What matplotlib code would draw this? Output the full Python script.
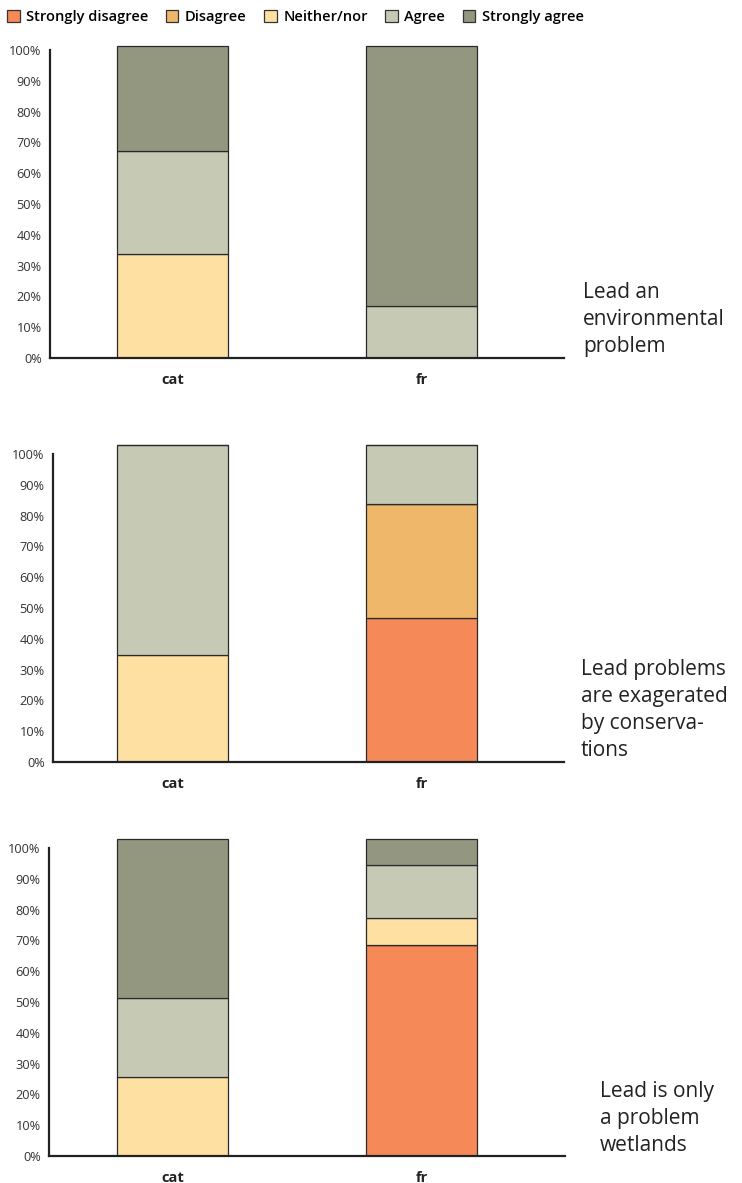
import matplotlib
matplotlib.use("Agg")
import matplotlib.pyplot as plt
from matplotlib.patches import Patch

plt.rcParams['font.family'] = ['Open Sans', 'DejaVu Sans']

groups = ["cat", "fr"]
levels = ["Strongly disagree", "Disagree", "Neither/nor", "Agree", "Strongly agree"]
colors = ["#F58A58", "#EEB769", "#FEE0A2", "#C6CAB4", "#939780"]

questions = ["Lead an\nenvironmental\nproblem",
             "Lead problems\nare exagerated\nby conserva-\ntions",
             "Lead is only\na problem\nwetlands"]

# shares per level (SD, D, N, A, SA) for cat and fr
q1_cat = [0, 0, 33.8, 33.5, 34.0]
q1_fr = [0, 0, 0, 17.0, 84.3]
q2_cat = [0, 0, 34.6, 68.3, 0]
q2_fr = [46.8, 37.1, 0, 19.0, 0]
q3_cat = [0, 0, 25.6, 25.8, 51.6]
q3_fr = [68.6, 0, 8.7, 17.1, 8.6]

data = [(q1_cat, q1_fr), (q2_cat, q2_fr), (q3_cat, q3_fr)]

W, H = 742, 1183
fig = plt.figure(figsize=(W / 100, H / 100), dpi=100)

# pixel layout of each panel: (left, right, bottom)
panels = [(50, 564, 358), (53, 564, 762), (49, 565, 1156)]
px_per_pct = 3.08
label_pos = [(583, 282), (581, 659), (600, 1081)]

for k, (l, r, b) in enumerate(panels):
    h = 105 * px_per_pct
    ax = fig.add_axes([l / W, (H - b) / H, (r - l) / W, h / H])
    cat_vals, fr_vals = data[k]
    bottoms = [0, 0]
    for i, lev in enumerate(levels):
        vals = [cat_vals[i], fr_vals[i]]
        ax.bar([0, 1], vals, width=0.446, bottom=bottoms, color=colors[i],
               edgecolor="#2a2a2a", linewidth=0.9, zorder=2)
        bottoms = [bottoms[0] + vals[0], bottoms[1] + vals[1]]
    ax.set_xlim(-0.492 + (l - 50) / 249, 1.572 + (r - 564) / 249)
    ax.set_ylim(0, 105)
    ax.set_yticks(range(0, 101, 10))
    ax.set_yticklabels([f"{v}%" for v in range(0, 101, 10)], fontsize=9.2, color="#333333")
    ax.set_xticks([0, 1])
    ax.set_xticklabels(groups, fontsize=10.5, fontweight="bold", color="#222222")
    ax.tick_params(axis="y", length=0, pad=6)
    ax.tick_params(axis="x", length=0, pad=11)
    for s in ["top", "right"]:
        ax.spines[s].set_visible(False)
    ax.spines["left"].set_bounds(0, 100)
    ax.spines["left"].set_linewidth(1.6)
    ax.spines["bottom"].set_linewidth(1.6)
    ax.spines["left"].set_color("#222222")
    ax.spines["bottom"].set_color("#222222")
    ax.patch.set_alpha(0)
    lx, ly = label_pos[k]
    fig.text(lx / W, 1 - ly / H, questions[k], fontsize=15, color="#222222",
             va="top", ha="left", linespacing=1.38)

handles = [Patch(facecolor=c, edgecolor="#333333", linewidth=0.9) for c in colors]
fig.legend(handles, levels, loc="upper left", bbox_to_anchor=(-0.004, 1.0), ncol=5,
           frameon=False, handlelength=0.85, handleheight=0.85,
           handletextpad=0.45, columnspacing=1.2, borderaxespad=0.3,
           prop={"weight": "semibold", "size": 10.5})

fig.savefig("out.png", dpi=100)
